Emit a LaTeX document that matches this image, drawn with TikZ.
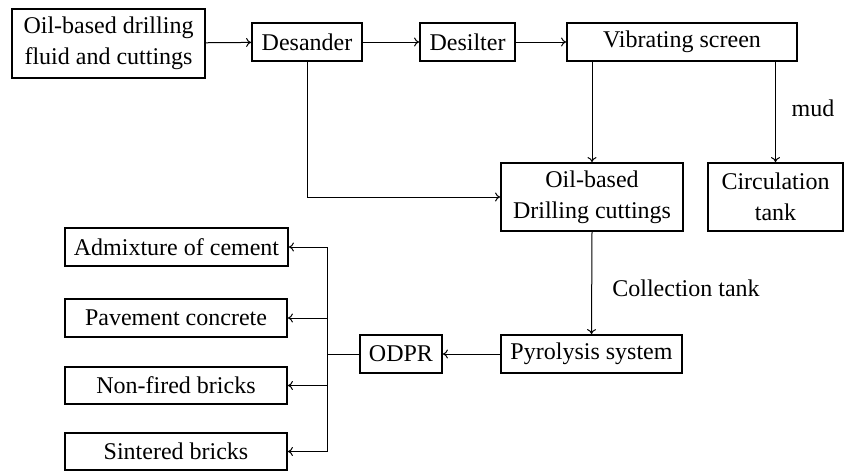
\documentclass[tikz,border=0pt]{standalone}
\usepackage{fontspec}
\setmainfont{Liberation Serif}
\usetikzlibrary{arrows.meta}
\begin{document}
\begin{tikzpicture}[x=1pt,y=-1pt,
  box/.style={draw,line width=1.8pt,inner sep=0pt,align=center,font=\fontsize{24}{31}\selectfont},
  conn/.style={line width=1pt,-{To[length=5pt,width=9pt]}},
  lbl/.style={font=\fontsize{24}{31}\selectfont,inner sep=0pt}]
\useasboundingbox (0,0) rectangle (846,471);
\node[box,minimum width=193pt,minimum height=69pt] (src) at (108.5,43.5) {Oil-based drilling\\fluid and cuttings};
\node[box,minimum width=110pt,minimum height=38pt] (desander) at (307,42) {Desander};
\node[box,minimum width=95pt,minimum height=38pt] (desilter) at (467.5,42) {Desilter};
\node[box,minimum width=230pt,minimum height=38pt] (vib) at (682,42) {Vibrating screen};
\node[box,minimum width=182pt,minimum height=68pt] (cut) at (592,197) {Oil-based\\Drilling cuttings};
\node[box,minimum width=135pt,minimum height=68pt] (circ) at (775.5,197) {Circulation\\tank};
\node[box,minimum width=181pt,minimum height=38pt] (pyro) at (591.5,354) {Pyrolysis system};
\node[box,minimum width=82pt,minimum height=38pt] (odpr) at (401,354) {ODPR};
\node[box,minimum width=223pt,minimum height=38pt] (adm) at (176.5,247) {Admixture of cement};
\node[box,minimum width=222pt,minimum height=38pt] (pav) at (176,318) {Pavement concrete};
\node[box,minimum width=222pt,minimum height=37pt] (nonf) at (176,385.5) {Non-fired bricks};
\node[box,minimum width=222pt,minimum height=37pt] (sint) at (176,451.5) {Sintered bricks};
\node[lbl] (mud) at (813,108) {mud};
\node[lbl] (coll) at (686,288) {Collection tank};
\coordinate (bus) at (327,354);
\draw[conn] (src) -- (desander);
\draw[conn] (desander) -- (desilter);
\draw[conn] (desilter) -- (vib);
\draw[conn] (cut.north |- vib.south) -- (cut.north);
\draw[conn] (circ.north |- vib.south) -- (circ.north);
\draw[conn] (desander.south) |- (cut.west);
\draw[conn] (cut.south) -- (pyro.north);
\draw[conn] (pyro.west) -- (odpr.east);
\draw[line width=1pt] (odpr.west) -- (bus);
\draw[line width=1pt] (bus |- adm.east) -- (bus |- sint.east);
\draw[conn] (bus |- adm.east) -- (adm.east);
\draw[conn] (bus |- pav.east) -- (pav.east);
\draw[conn] (bus |- nonf.east) -- (nonf.east);
\draw[conn] (bus |- sint.east) -- (sint.east);
\end{tikzpicture}
\end{document}
